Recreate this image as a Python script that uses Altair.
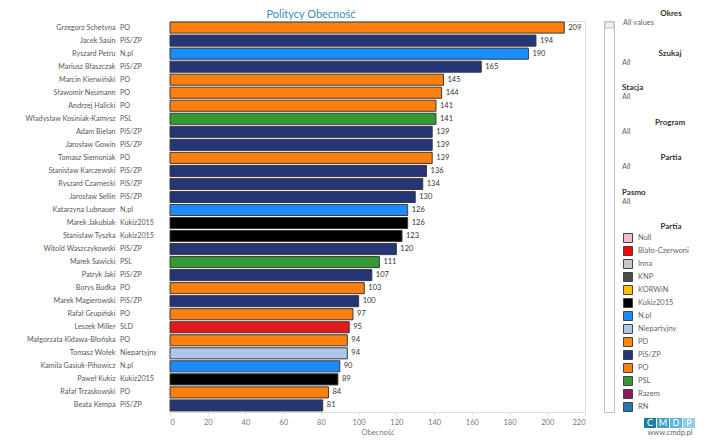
import altair as alt
import pandas as pd

names = ["Grzegorz Schetyna", "Jacek Sasin", "Ryszard Petru", "Mariusz Błaszczak",
         "Marcin Kierwiński", "Sławomir Neumann", "Andrzej Halicki",
         "Władysław Kosiniak-Kamysz", "Adam Bielan", "Jarosław Gowin",
         "Tomasz Siemoniak", "Stanisław Karczewski", "Ryszard Czarnecki",
         "Jarosław Sellin", "Katarzyna Lubnauer", "Marek Jakubiak",
         "Stanisław Tyszka", "Witold Waszczykowski", "Marek Sawicki",
         "Patryk Jaki", "Borys Budka", "Marek Magierowski", "Rafał Grupiński",
         "Leszek Miller", "Małgorzata Kidawa-Błońska", "Tomasz Wołek",
         "Kamila Gasiuk-Pihowicz", "Paweł Kukiz", "Rafał Trzaskowski", "Beata Kempa"]
parties = ["PO", "PiS/ZP", "N.pl", "PiS/ZP", "PO", "PO", "PO", "PSL", "PiS/ZP", "PiS/ZP",
           "PO", "PiS/ZP", "PiS/ZP", "PiS/ZP", "N.pl", "Kukiz2015", "Kukiz2015", "PiS/ZP",
           "PSL", "PiS/ZP", "PO", "PiS/ZP", "PO", "SLD", "PO", "Niepartyjny", "N.pl",
           "Kukiz2015", "PO", "PiS/ZP"]
values = [209, 194, 190, 165, 145, 144, 141, 141, 139, 139, 139, 136, 134, 130, 126, 126,
          123, 120, 111, 107, 103, 100, 97, 95, 94, 94, 90, 89, 84, 81]

legend_parties = ["Null", "Biało-Czerwoni", "Inna", "KNP", "KORWiN", "Kukiz2015", "N.pl",
                  "Niepartyjny", "PD", "PiS/ZP", "PO", "PSL", "Razem", "RN", "SLD"]
legend_colors = ["#f7b6d2", "#ff0000", "#c7c7c7", "#4d4b4b", "#ffc000", "#000000", "#1a8cff",
                 "#aec7e8", "#ff8800", "#253575", "#ff7f0e", "#339933", "#8c1a5c", "#1f77b4",
                 "#e31a1c"]
x_ticks = [0, 20, 40, 60, 80, 100, 120, 140, 160, 180, 200, 220]

df = pd.DataFrame({"name": names, "party": parties, "value": values})

FONT = "Lato"
OX, OY = 170, 21  # plot origin on page (used to convert annotation positions)


def px(x):
    return x - OX


def py(y):
    return y - OY


y_enc = alt.Y("name:N", sort=names, title=None,
              scale=alt.Scale(paddingInner=0.15, paddingOuter=0.08),
              axis=alt.Axis(labelAlign="right", labelPadding=55, ticks=False, domain=False,
                            labelFontSize=7.2, labelColor="#595959", labelFont=FONT,
                            labelLimit=200))
x_enc = alt.X("value:Q", title="Obecność",
              scale=alt.Scale(domain=[0, 220], nice=False),
              axis=alt.Axis(values=x_ticks, grid=False, domain=False, tickSize=3,
                            tickColor="#dddddd", labelColor="#777777", labelFontSize=7.5,
                            labelOverlap=False,
                            labelFont=FONT, titleFont=FONT, titleFontSize=7.5,
                            titleFontWeight="normal", titleColor="#777777", titlePadding=3,
                            labelPadding=3))

color_enc = alt.Color("party:N",
                      scale=alt.Scale(domain=legend_parties, range=legend_colors),
                      legend=alt.Legend(orient="none", legendX=px(623), legendY=py(233),
                                        title=None, symbolType="square", symbolSize=81,
                                        symbolStrokeColor="#444444", symbolStrokeWidth=1,
                                        labelFontSize=7.5, labelColor="#666666", labelFont=FONT,
                                        rowPadding=3, clipHeight=10, labelOffset=5,
                                        values=legend_parties[:14]))

bars = alt.Chart(df).mark_bar(stroke="#3a3a3a", strokeWidth=1).encode(
    y=y_enc, x=x_enc, color=color_enc)

vals = alt.Chart(df).mark_text(align="left", dx=4, fontSize=7.5, color="#333333",
                               font=FONT).encode(
    y=y_enc, x=x_enc, text="value:Q")

party_txt = alt.Chart(df).mark_text(align="left", fontSize=7.2, color="#595959",
                                    font=FONT).encode(
    y=y_enc, x=alt.value(px(120)), text="party:N")


def label(text, x, y, align="left", size=8, color="#666666", weight="normal", font=FONT):
    return alt.Chart(pd.DataFrame({"t": [text]})).mark_text(
        align=align, baseline="middle", fontSize=size, color=color, fontWeight=weight,
        font=font).encode(x=alt.value(px(x)), y=alt.value(py(y)), text="t:N")


def box(x1, x2, y1, y2, fill, stroke=None):
    kw = {"fill": fill}
    if stroke:
        kw["stroke"] = stroke
        kw["strokeWidth"] = 1
    return alt.Chart(pd.DataFrame({"t": [0]})).mark_rect(**kw).encode(
        x=alt.value(px(x1)), x2=alt.value(px(x2)), y=alt.value(py(y1)), y2=alt.value(py(y2)))


annots = [
    label("Politycy Obecność", 311, 15, align="center", size=11, color="#3d8cbf"),
    box(604.5, 614.5, 21.5, 412.5, "#ffffff", "#c0c0c0"),
    box(605, 614, 22, 28, "#eeeeee", "#c0c0c0"),
    label("Okres", 671, 14, align="center", size=8, color="#333333", weight="bold"),
    label("All values", 623, 23, size=7.5),
    label("Szukaj", 670, 54, align="center", size=8, color="#333333", weight="bold"),
    label("All", 622, 63, size=7.5),
    label("Stacja", 622, 88, size=8, color="#333333", weight="bold"),
    label("All", 622, 97, size=7.5),
    label("Program", 670, 123, align="center", size=8, color="#333333", weight="bold"),
    label("All", 622, 132, size=7.5),
    label("Partia", 671, 158, align="center", size=8, color="#333333", weight="bold"),
    label("All", 622, 167, size=7.5),
    label("Pasmo", 622, 193, size=8, color="#333333", weight="bold"),
    label("All", 622, 202, size=7.5),
    label("Partia", 671, 227, align="center", size=8, color="#333333", weight="bold"),
    box(644, 656, 418, 428, "#1d7fa0"),
    box(657, 669, 418, 428, "#3fa4c7"),
    box(670, 682, 418, 428, "#5bb8d9"),
    box(683, 695, 418, 428, "#8fd0e8"),
    label("C", 650, 423, align="center", size=9, color="#ffffff"),
    label("M", 663, 423, align="center", size=9, color="#ffffff"),
    label("D", 676, 423, align="center", size=9, color="#ffffff"),
    label("P", 689, 423, align="center", size=9, color="#ffffff"),
    label("www.cmdp.pl", 670, 433, align="center", size=7.5, color="#666666"),
]

chart = alt.layer(bars, vals, party_txt, *annots).properties(
    width=415, height=391,
    padding={"left": 162, "top": 13, "right": 127, "bottom": 27},
    autosize=alt.AutoSizeParams(type="none"),
).configure_view(stroke=None).configure(font=FONT)

chart.save("out.html", embed_options={"renderer": "svg", "actions": False})
